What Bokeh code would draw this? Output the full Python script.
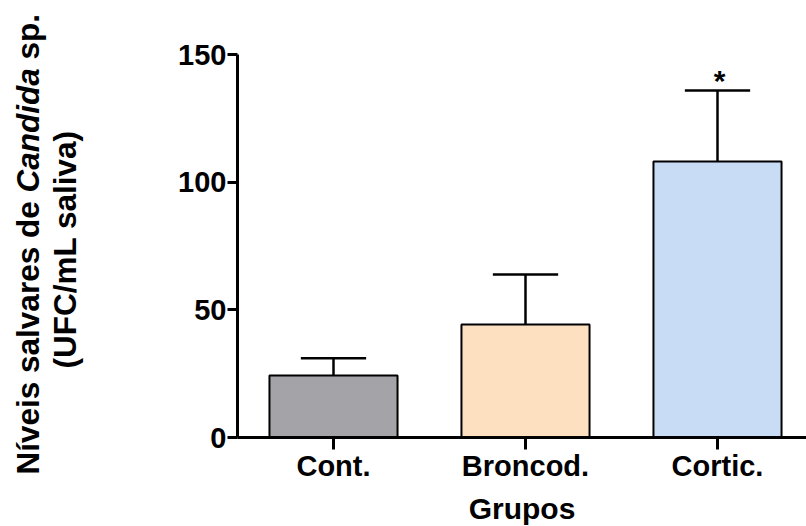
import math
from bokeh.plotting import figure
from bokeh.models import Range1d, FixedTicker, Label, ColumnDataSource
from bokeh.core.properties import value
from bokeh.embed import file_html
from bokeh.resources import INLINE

categories = ["Cont.", "Broncod.", "Cortic."]
means = [24.3, 44.3, 108.1]
sems = [6.7, 19.5, 27.8]
colors = ["#a4a3a8", "#fde0c0", "#c8ddf5"]
y_ticks = [0, 50, 100, 150]
significance = ["", "", "*"]

FONT = "Liberation Sans"
W, H = 806, 526

xs = list(range(1, len(categories) + 1))
uppers = [m + s for m, s in zip(means, sems)]
src = ColumnDataSource(dict(x=xs, top=means, upper=uppers, color=colors,
                            cap_l=[x - 0.17 for x in xs], cap_r=[x + 0.17 for x in xs],
                            sig=significance))

# the frame covers the whole canvas so that the y title (drawn as labels) is not clipped;
# the axes are pinned at x=0.5 and y=0 and bounded to the data extent
px_per_x = 192.0
px_per_y = 383.0 / 150.0
x_axis_pos = 0.5
x_start = x_axis_pos - 237 / px_per_x
x_end = x_axis_pos + (W - 237) / px_per_x
y_end = 150 + 54 / px_per_y
y_start = 0 - (H - 437) / px_per_y

p = figure(width=W, height=H, output_backend="svg", toolbar_location=None,
           x_range=Range1d(x_start, x_end), y_range=Range1d(y_start, y_end),
           min_border_left=0, min_border_right=0, min_border_top=0, min_border_bottom=0)
p.outline_line_color = None
p.grid.visible = False
p.background_fill_color = "white"

p.vbar(x="x", top="top", bottom=0, width=0.667, fill_color="color",
       line_color="black", line_width=2, source=src)
p.segment(x0="x", y0="top", x1="x", y1="upper", line_color="black", line_width=2.5, source=src)
p.segment(x0="cap_l", y0="upper", x1="cap_r", y1="upper", line_color="black", line_width=2.5, source=src)
p.text(x="x", y="upper", text="sig", text_align="center", text_baseline="alphabetic",
       x_offset=2, y_offset=-10, text_font=value(FONT), text_font_style="bold",
       text_font_size="30px", text_color="black", source=src)

# axes
ya = p.yaxis[0]
ya.fixed_location = x_axis_pos
ya.bounds = (y_ticks[0], y_ticks[-1])
ya.ticker = FixedTicker(ticks=y_ticks)
ya.axis_line_width = 3
ya.major_tick_line_width = 3
ya.major_tick_out = 10
ya.major_tick_in = 0
ya.minor_tick_line_color = None
ya.major_label_standoff = 1
ya.major_label_text_font = FONT
ya.major_label_text_font_style = "bold"
ya.major_label_text_font_size = "29px"
ya.major_label_text_color = "black"

xa = p.xaxis[0]
xa.fixed_location = 0
xa.bounds = (x_axis_pos, x_end)
xa.ticker = FixedTicker(ticks=xs)
xa.major_label_overrides = {x: c for x, c in zip(xs, categories)}
xa.axis_line_width = 3
xa.major_tick_line_width = 3
xa.major_tick_out = 12
xa.major_tick_in = 0
xa.minor_tick_line_color = None
xa.major_label_standoff = 0
xa.major_label_text_font = FONT
xa.major_label_text_font_style = "bold"
xa.major_label_text_font_size = "29px"
xa.major_label_text_color = "black"
xa.axis_label = "Grupos"
xa.axis_label_standoff = 7
xa.axis_label_text_font = FONT
xa.axis_label_text_font_style = "bold"
xa.axis_label_text_font_size = "30px"
xa.axis_label_text_color = "black"

# y title (two lines, with italic genus name); screen units from bottom-left of canvas
ang = math.pi / 2
fs = 31.5
common = dict(x_units="screen", y_units="screen", angle=ang, text_font=FONT,
              text_font_size=f"{fs}px", text_color="black", text_baseline="alphabetic")
y0 = 52
w1 = 8.95 * fs     # "Níveis salvares de "
w2 = 3.945 * fs    # "Candida"
sp = 0.278 * fs    # space
p.add_layout(Label(x=27, y=y0, text="Níveis salvares de", text_align="left",
                   text_font_style="bold", **common))
p.add_layout(Label(x=27, y=y0 + w1, text="Candida", text_align="left",
                   text_font_style="bold italic", **common))
p.add_layout(Label(x=27, y=y0 + w1 + w2 + sp, text="sp.", text_align="left",
                   text_font_style="bold", **common))
p.add_layout(Label(x=64, y=277, text="(UFC/mL saliva)", text_align="center",
                   text_font_style="bold", **common))

open("out.html", "w").write(file_html(p, INLINE))
